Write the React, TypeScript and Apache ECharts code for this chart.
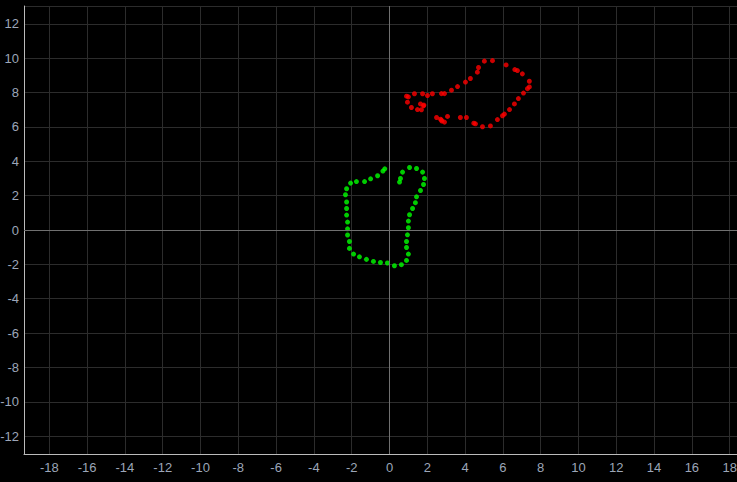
import React, { useEffect, useRef } from "react";
import * as echarts from "echarts";

const redX = [5.02, 5.45, 6.17, 6.63, 6.77, 7.03, 7.4, 7.4, 7.3, 7.09, 6.82, 6.61, 6.35, 6.08, 5.98, 5.71, 5.34, 4.92, 4.46, 4.55, 4.07, 3.75, 3.07, 2.91, 2.77, 2.75, 2.7, 2.49, 1.69, 1.8, 1.82, 1.64, 1.48, 1.16, 0.95, 0.9, 1.0, 1.32, 1.75, 2.01, 2.27, 2.75, 2.91, 3.28, 3.6, 4.02, 4.28, 4.65, 4.71];
const redY = [9.83, 9.86, 9.61, 9.34, 9.28, 9.09, 8.66, 8.33, 8.23, 7.97, 7.65, 7.34, 7.01, 6.75, 6.65, 6.43, 6.06, 6.01, 6.22, 6.18, 6.55, 6.55, 6.61, 6.28, 6.34, 6.4, 6.45, 6.55, 7.0, 7.23, 7.27, 7.34, 7.01, 7.13, 7.44, 7.79, 7.75, 7.93, 7.93, 7.83, 7.93, 7.94, 7.94, 8.14, 8.35, 8.61, 8.82, 9.19, 9.46];

const greenX = [-0.25, -0.35, -0.63, -1.0, -1.32, -1.75, -2.06, -2.27, -2.33, -2.27, -2.27, -2.27, -2.22, -2.22, -2.22, -2.12, -2.12, -1.9, -1.59, -1.22, -0.85, -0.48, -0.11, 0.26, 0.63, 0.9, 1.0, 0.9, 0.9, 0.95, 1.0, 1.0, 1.06, 1.22, 1.37, 1.43, 1.64, 1.8, 1.85, 1.75, 1.43, 1.06, 0.69, 0.58, 0.53];
const greenY = [3.56, 3.43, 3.16, 2.98, 2.82, 2.82, 2.73, 2.4, 2.05, 1.63, 1.25, 0.87, 0.46, 0.07, -0.29, -0.67, -1.07, -1.4, -1.56, -1.71, -1.83, -1.89, -1.92, -2.08, -2.02, -1.77, -1.4, -1.02, -0.67, -0.28, 0.13, 0.52, 0.89, 1.25, 1.59, 1.93, 2.3, 2.65, 3.0, 3.37, 3.58, 3.64, 3.37, 3.0, 2.79];

const xRange = [-19.34, 19.34];
const yRange = [-13.04, 13.04];
const tickStep = 2;

const zip = (xs: number[], ys: number[]) => xs.map((x, i) => [x, ys[i]]);
const intLabel = (v: number) =>
  Math.abs(v - Math.round(v)) < 1e-6 ? String(Math.round(v)) : "";

export default function App() {
  const ref = useRef<HTMLDivElement>(null);
  useEffect(() => {
    document.body.style.margin = "0";
    document.body.style.background = "#000";
    document.body.style.overflow = "hidden";
    const chart = echarts.init(ref.current!, undefined, { renderer: "svg" });
    const axisCommon = {
      type: "value" as const,
      splitNumber: 19,
      minInterval: tickStep,
      maxInterval: tickStep,
      axisTick: { show: false },
      axisLine: { show: true, onZero: false, lineStyle: { color: "#bbbbbb", width: 1 } },
      splitLine: { show: true, lineStyle: { color: "#2c2c2c", width: 1 } },
    };
    chart.setOption({
      animation: false,
      backgroundColor: "#000000",
      grid: { left: 24, right: -18, top: 6, bottom: 28, outerBoundsMode: "none", containLabel: false },
      xAxis: {
        ...axisCommon,
        min: xRange[0],
        max: xRange[1],
        axisLabel: { color: "#9ca6b8", fontSize: 13, margin: 7, formatter: intLabel },
      },
      yAxis: {
        ...axisCommon,
        min: yRange[0],
        max: yRange[1],
        axisLabel: { color: "#9ca6b8", fontSize: 13, margin: 5, formatter: intLabel },
      },
      series: [
        {
          type: "scatter",
          data: zip(redX, redY),
          symbolSize: 5,
          itemStyle: { color: "#ff0000" },
          markLine: {
            silent: true,
            symbol: "none",
            label: { show: false },
            lineStyle: { color: "#707070", width: 1, type: "solid" },
            data: [{ xAxis: 0 }, { yAxis: 0 }],
          },
        },
        {
          type: "scatter",
          data: zip(greenX, greenY),
          symbolSize: 5,
          itemStyle: { color: "#00ff00" },
        },
      ],
    });
    return () => chart.dispose();
  }, []);
  return <div ref={ref} style={{ width: 737, height: 482 }} />;
}
